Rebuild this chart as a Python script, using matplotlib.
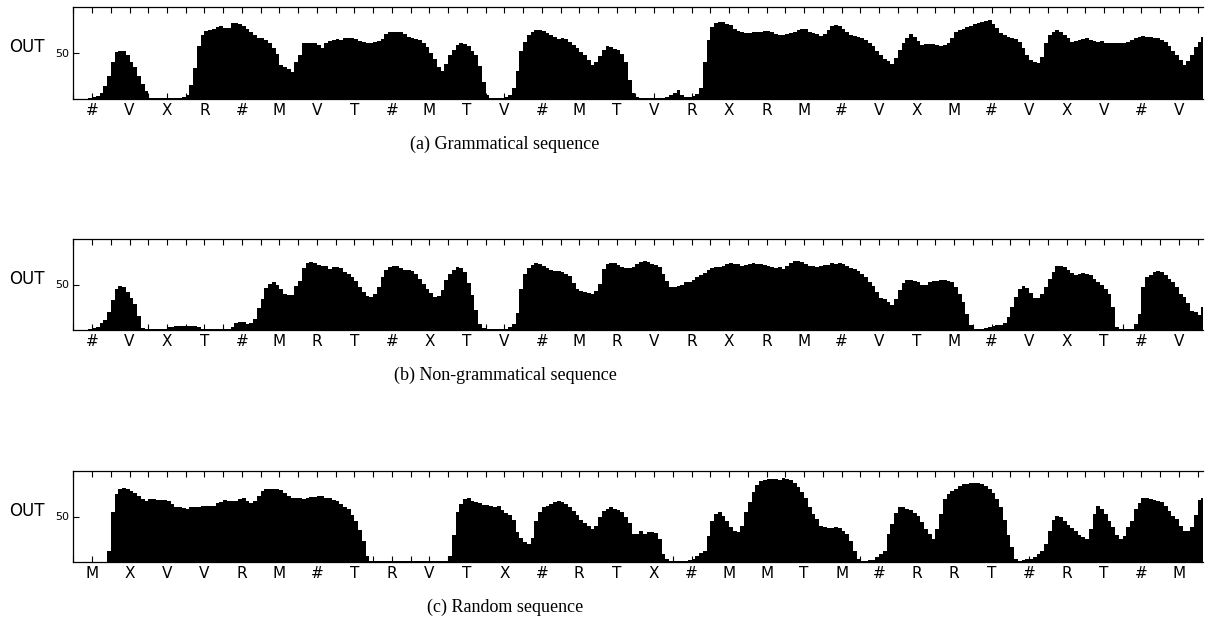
import matplotlib.pyplot as plt
import numpy as np

# letras del eje x de cada secuencia
labels_a = ['#', 'V', 'X', 'R', '#', 'M', 'V', 'T', '#', 'M', 'T', 'V', '#', 'M', 'T',
            'V', 'R', 'X', 'R', 'M', '#', 'V', 'X', 'M', '#', 'V', 'X', 'V', '#', 'V']
labels_b = ['#', 'V', 'X', 'T', '#', 'M', 'R', 'T', '#', 'X', 'T', 'V', '#', 'M', 'R',
            'V', 'R', 'X', 'R', 'M', '#', 'V', 'T', 'M', '#', 'V', 'X', 'T', '#', 'V']
labels_c = ['M', 'X', 'V', 'V', 'R', 'M', '#', 'T', 'R', 'V', 'T', 'X', '#', 'R', 'T',
            'X', '#', 'M', 'M', 'T', 'M', '#', 'R', 'R', 'T', '#', 'R', 'T', '#', 'M']

# salida OUT, 10 muestras por letra
out_a = [0, 0, 0, 0, 1, 2, 3, 6, 14, 25,
         40, 51, 52, 52, 47, 40, 34, 25, 16, 8,
         1, 0.5, 0.5, 0.5, 0.5, 0.5, 0.5, 0.5, 1, 2,
         4, 15, 33, 57, 69, 74, 75, 76, 78, 79,
         77, 77, 82, 82, 81, 79, 76, 73, 69, 66,
         66, 64, 60, 55, 49, 37, 35, 32, 29, 40,
         47, 60, 61, 61, 61, 58, 55, 60, 63, 64,
         64.5, 64, 65.5, 66, 66, 64.5, 63, 62, 61, 61,
         62, 63, 65, 70, 72, 72, 73, 73, 70, 67,
         66, 65, 64, 60, 56, 50, 43, 35, 30, 38,
         47, 53, 58, 60, 59, 57, 52, 47, 36, 18,
         4, 1, 1, 1, 1, 2, 4, 12, 30, 52,
         62, 69, 73, 75, 75, 74, 71, 69, 67, 64.5,
         66, 65, 62, 58, 55, 51, 47, 42, 37, 40,
         46, 53, 57, 56, 54, 53, 49, 40, 20, 6,
         1.5, 1, 0.7, 0.7, 0.7, 0.7, 0.7, 1, 2, 4,
         6.5, 9, 4, 2, 2, 3, 5, 12, 40, 64,
         78, 82, 83, 83, 81, 80, 76, 74, 72, 71,
         71, 72, 73, 73, 74, 74, 72, 70, 69, 69,
         70, 71, 73, 75, 76, 76, 73, 71, 70, 68,
         70, 75, 79, 80, 79, 76, 72, 69, 68, 67,
         66, 64, 61, 57, 52, 47, 43, 41, 38, 44,
         53, 61, 66, 70, 67, 63, 58, 59, 59, 59.5,
         58, 57, 58, 61, 66, 73, 75, 76, 78, 79,
         81, 82, 83, 84, 85.5, 81, 77, 71, 69, 67,
         66, 65, 62, 55, 47, 42, 40, 39, 45, 60,
         69, 73, 75, 73, 69, 66, 62, 63, 64, 64.5,
         66, 64, 63, 62, 62.5, 61, 60, 61, 60, 60,
         61, 62, 64, 66, 67, 68, 67.5, 67, 66, 66,
         64, 62, 57, 52, 47, 42, 37, 41, 48, 56,
         62, 67]

out_b = [0, 0, 0, 0, 0.5, 1.5, 3, 7, 11, 20,
         33, 45, 48, 47, 42, 35, 28, 15, 2, 0.5,
         0.4, 0.4, 0.4, 0.4, 1, 2.5, 3, 4, 4.4, 4.4,
         4.4, 4.4, 4.4, 3, 1, 0.7, 0.7, 0.7, 0.7, 0.7,
         0.7, 0.7, 2.5, 7.7, 8.5, 8, 6, 7, 12, 24,
         34, 46, 51, 52.5, 49, 45, 40, 38.6, 38.6, 48,
         54, 68, 74, 74.6, 74, 72, 71, 70, 67.5, 69,
         69.8, 68, 64, 62, 58, 54, 47, 42, 37, 36,
         40, 47, 58, 66, 69, 70, 70, 68, 66.5, 66,
         65.4, 62, 56, 50.7, 45, 41, 36.5, 37.5, 44, 55,
         62, 66, 69, 68.5, 64, 52, 38, 22, 6, 1.5,
         1, 1, 1, 1, 1, 1, 2.5, 6, 18, 45,
         62, 68, 72, 74, 73, 71, 68, 66, 64.5, 65,
         64, 62, 59, 52, 45, 42.5, 42, 41, 40, 43,
         51, 67, 72.5, 74, 73.5, 72, 69, 68, 68, 69,
         73, 74.6, 76.5, 75, 73, 72, 69, 62, 54, 47,
         47.5, 48, 50, 52.5, 53, 55, 58, 61, 63, 66,
         68, 69, 69, 70, 73, 74, 73, 72.8, 70.5, 71.7,
         73, 73.5, 72.8, 72.8, 72, 70, 69, 68, 69, 67,
         70, 73.5, 76, 76.5, 75.4, 73, 71, 70, 69, 71,
         71.7, 72, 74, 73, 74, 73, 70, 68, 67, 65.4,
         62, 58, 53, 48, 42, 35, 34.5, 31, 27.5, 34,
         43.5, 52, 55, 55.5, 54, 52.5, 50, 50, 53, 54.4,
         54.4, 55, 55, 54.4, 52.5, 47, 40, 30.5, 17.6, 5.5,
         1, 1, 1, 1.8, 2.6, 3.7, 4.8, 4.8, 7.7, 14,
         25, 36, 45, 48, 46, 41, 35, 35, 39.7, 47,
         56, 63.6, 70, 70, 69, 66.5, 63, 60.7, 61.8, 62.9,
         62, 60.7, 56, 52.5, 49, 45, 39.7, 25, 3, 0.4,
         0.4, 0.4, 1, 6, 17.6, 47, 58, 60, 63.6, 65.4,
         64, 60, 56, 52.5, 47, 40, 36, 30, 21, 19.5,
         15.8, 25]

out_c = [0, 0, 0, 0, 0, 0, 0, 0, 0, 11.4,
         54.6, 75, 80, 81, 80.5, 78, 75.6, 73, 69, 66.8,
         69, 69, 68, 68, 68, 67, 64, 61, 60, 59,
         58.3, 60, 61, 61, 61.3, 61.3, 61.3, 61.5, 64.6, 65.7,
         68, 67, 66.8, 67.5, 69, 70.5, 67.5, 65, 67, 73,
         78, 80.4, 80.4, 80.4, 80, 79, 75.6, 73, 71, 70.5,
         70.5, 69, 70, 71.5, 72, 73, 72.5, 71, 70, 68.5,
         67, 63.5, 61, 58, 52, 45, 35, 23, 6, 1,
         0.4, 0.4, 0.4, 0.4, 0.4, 0.4, 0.4, 0.4, 0.4, 0.4,
         0.4, 0.4, 0.4, 0.4, 0.4, 0.4, 0.4, 0.4, 0.4, 0.4,
         6, 30, 55, 64, 69, 70, 67, 65.7, 64.6, 63,
         63, 62, 61, 62, 57, 54, 51.5, 46, 33, 26,
         22, 20, 26, 45, 55, 61, 62, 63.8, 65.7, 66.8,
         66.5, 64, 61, 56.5, 51.5, 46, 43, 39, 36, 40,
         50, 56, 58.3, 60, 58.3, 57, 55, 50, 42.4, 30.6,
         30.5, 33.6, 30.6, 32.5, 32.5, 32, 25, 9, 2.5, 0.4,
         0.4, 0.4, 0.4, 0.4, 1.5, 3, 6.6, 9.2, 12, 28.8,
         45, 53, 54.6, 51, 45, 38, 34, 33, 40, 55,
         65.7, 76.8, 85, 89, 90.4, 91.5, 92, 91, 90.4, 92.6,
         92, 90.5, 87, 83, 77, 70, 61, 53, 47.2, 39.8,
         38, 37.3, 37.5, 38, 37.3, 34.3, 30.6, 23.2, 12, 3,
         1.1, 1.1, 1.8, 1.8, 4.8, 8.5, 12, 30.6, 42, 54,
         61, 60, 58.3, 57, 54, 51, 43.5, 36, 30.6, 25,
         36, 52.8, 69.4, 75, 78.6, 80.4, 84, 86, 86.5, 86.7,
         86.7, 86.7, 85.5, 84, 80, 76, 69, 60, 46, 29,
         16, 3, 1.1, 1.8, 2.5, 3, 5, 8, 12, 20,
         34, 46, 51, 49, 45.4, 41, 37.3, 34, 30, 27.7,
         25, 36, 52.8, 62, 58.3, 52.8, 45.4, 38, 30, 25,
         28, 38, 45.4, 58.3, 64.6, 70.5, 70, 69.4, 68, 67.5,
         66, 62, 56.5, 51, 47.2, 39.8, 34.3, 34.3, 38, 52,
         68, 70.5]

captions = ['(a) Grammatical sequence', '(b) Non-grammatical sequence', '(c) Random sequence']

fig = plt.figure(figsize=(12.08, 6.26), dpi=100)
W, H = 1208.0, 626.0

# posiciones de los ejes en pixeles (top, bottom)
paneles = [(6.7, 98.7, 144), (239.3, 329.7, 375), (471.3, 561.7, 607)]
datos = [(out_a, labels_a), (out_b, labels_b), (out_c, labels_c)]

for (top, bot, ycap), (vals, labs), cap in zip(paneles, datos, captions):
    ax = fig.add_axes([73.3 / W, 1 - bot / H, 1130 / W, (bot - top) / H])
    x = np.arange(len(vals)) * 0.1
    ax.bar(x, vals, width=0.1, align='edge', color='black', linewidth=0)
    ax.set_xlim(0, 30.15)
    ax.set_ylim(0, 100)
    ax.spines['right'].set_visible(False)
    for s in ['top', 'bottom', 'left']:
        ax.spines[s].set_linewidth(0.9)
    ax.set_xticks(np.arange(30) + 0.5)
    ax.set_xticklabels(labs, fontsize=11)
    ax.set_xticks(np.arange(0, 31), minor=True)
    ax.tick_params(axis='x', which='both', direction='in', top=True, length=4,
                   width=0.8, pad=3)
    ax.set_yticks([50])
    ax.set_yticklabels(['50'], fontsize=8)
    ax.tick_params(axis='y', direction='in', length=4, width=0.8, pad=3, right=False)
    ax.set_ylabel('OUT', rotation=0, fontsize=12, ha='right', va='center')
    ax.yaxis.set_label_coords(-0.025, 0.56)
    fig.text(505 / W, 1 - ycap / H, cap, ha='center', va='center',
             family='Liberation Serif', fontsize=13)

plt.savefig('out.png', dpi=100)
